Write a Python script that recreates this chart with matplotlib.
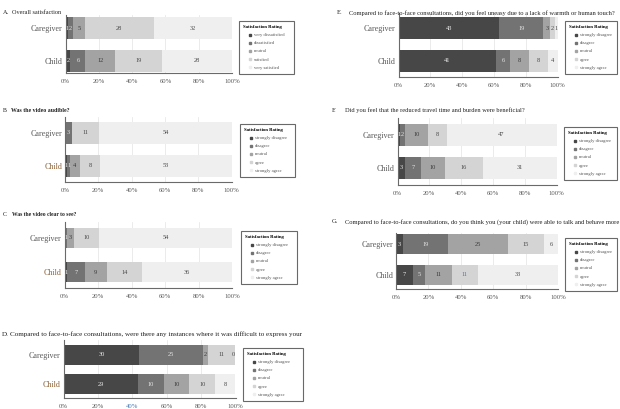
import matplotlib
matplotlib.use('Agg')
import matplotlib.pyplot as plt
from matplotlib.lines import Line2D
import numpy as np

plt.rcParams['font.family'] = ['Liberation Serif', 'DejaVu Serif']

W, H = 620, 409

groups = ['Caregiver', 'Child']
satisfaction_levels = ['very dissatisfied', 'dissatisfied', 'neutral', 'satisfied', 'very satisfied']
agreement_levels = ['strongly disagree', 'disagree', 'neutral', 'agree', 'strongly agree']

a_caregiver = [1, 2, 5, 28, 32]
a_child = [2, 6, 12, 19, 28]
b_caregiver = [0, 3, 0, 11, 54]
b_child = [1, 1, 4, 8, 53]
c_caregiver = [0, 1, 3, 10, 54]
c_child = [1, 7, 9, 14, 36]
d_caregiver = [30, 25, 2, 11, 0]
d_child = [29, 10, 10, 10, 8]
e_caregiver = [43, 19, 3, 2, 1]
e_child = [41, 6, 8, 8, 4]
f_caregiver = [1, 2, 10, 8, 47]
f_child = [3, 7, 10, 16, 31]
g_caregiver = [3, 19, 25, 15, 6]
g_child = [7, 5, 11, 11, 33]

title_a = 'Overall satisfaction'
title_b = 'Was the video audible?'
title_c = 'Was the video clear to see?'
title_d = 'Compared to face-to-face consultations, were there any instances where it was difficult to express your'
title_e = 'Compared to face-to-face consultations, did you feel uneasy due to a lack of warmth or human touch?'
title_f = 'Did you feel that the reduced travel time and burden were beneficial?'
title_g = 'Compared to face-to-face consultations, do you think you (your child) were able to talk and behave more'

x_ticks = [0, 20, 40, 60, 80, 100]
x_tick_labels = ['0%', '20%', '40%', '60%', '80%', '100%']
legend_title = 'Satisfaction Rating'

colors = ['#474747', '#737373', '#a3a3a3', '#d4d4d4', '#efefef']
text_colors = ['#eeeeee', '#e6e6e6', '#3a3a3a', '#4a4a4a', '#4a4a4a']

fig = plt.figure(figsize=(W / 100, H / 100), dpi=100)


def panel(letter, title, bold, tfs, lx, tx, ty, xr, yr, centers, barpx,
          cg_vals, ch_vals, levels, lbox, show_zero=False,
          child_color='#595959', blue_tick=None, blue_val=None):
    x0, x1 = xr
    yt, yb = yr
    cgc, chc = centers
    ax = fig.add_axes([x0 / W, 1 - yb / H, (x1 - x0) / W, (yb - yt) / H])
    u = chc - cgc
    ylo = -(yb - chc) / u
    yhi = 1 + (cgc - yt) / u
    bh = barpx / u
    ax.set_xlim(0, 100)
    ax.set_ylim(ylo, yhi)
    rows = [(1, cg_vals, 'cg'), (0, ch_vals, 'ch')]
    for y, vals, key in rows:
        vals = np.array(vals, dtype=float)
        pct = vals / vals.sum() * 100
        left = 0.0
        for i, (v, p) in enumerate(zip(vals, pct)):
            ax.barh(y, p, left=left, height=bh, color=colors[i], edgecolor='none', zorder=2)
            if v > 0 or show_zero:
                xc = left + p / 2 if p > 0 else min(left + 1.2, 98.8)
                col = text_colors[i]
                if blue_val is not None and blue_val == (key, i):
                    col = '#4a78b0'
                ax.text(xc, y, '%d' % v, ha='center', va='center', fontsize=4.6,
                        color=col, zorder=3)
            left += p
    ax.set_yticks([1, 0])
    ax.set_yticklabels(groups, fontsize=5.8, color='#595959')
    ax.get_yticklabels()[1].set_color(child_color)
    ax.set_xticks(x_ticks)
    ax.set_xticklabels(x_tick_labels, fontsize=4.8, color='#595959')
    if blue_tick is not None:
        ax.get_xticklabels()[blue_tick].set_color('#4a78b0')
    ax.tick_params(length=0, pad=4)
    ax.tick_params(axis='y', pad=2)
    ax.grid(axis='x', color='#e3e3e3', linewidth=0.5, zorder=0)
    ax.set_axisbelow(True)
    for s in ['top', 'right']:
        ax.spines[s].set_visible(False)
    for s in ['left', 'bottom']:
        ax.spines[s].set_color('#6a6a6a')
        ax.spines[s].set_linewidth(0.8)
    fig.text(lx / W, 1 - ty / H, letter, fontsize=tfs, va='center', ha='left', color='#222222')
    fig.text(tx / W, 1 - ty / H, title, fontsize=tfs, va='center', ha='left',
             color='#222222', fontweight='bold' if bold else 'normal')
    handles = [Line2D([], [], marker='s', ls='none', color=c, markersize=1.8) for c in colors]
    bx0, by0, bx1, by1 = lbox
    leg = fig.legend(handles, levels, title=legend_title, loc='upper left',
                     bbox_to_anchor=(bx0 / W, 1 - by1 / H, (bx1 - bx0) / W, (by1 - by0) / H),
                     mode='expand', fontsize=3.3,
                     title_fontproperties={'size': 3.4, 'weight': 'bold'},
                     frameon=True, fancybox=False, edgecolor='#444444',
                     borderpad=0.9, labelspacing=0.85, handlelength=3.2,
                     handletextpad=-0.9, borderaxespad=0, alignment='left')
    leg.get_frame().set_linewidth(0.8)
    for t in leg.get_texts():
        t.set_color('#555555')
    return ax


panel('A.', title_a, False, 4.5, 3, 12, 12, (65.5, 232), (15, 73), (28, 61), 22,
      a_caregiver, a_child, satisfaction_levels, (239, 21, 294, 73))
panel('B.', title_b, True, 4.2, 3, 11, 110, (65, 231.5), (117, 182), (133, 166), 22,
      b_caregiver, b_child, agreement_levels, (240, 124, 295, 182), child_color='#8c6239')
panel('C.', title_c, True, 4.1, 3, 12, 214, (64.5, 232), (222, 288), (237.5, 272), 20,
      c_caregiver, c_child, agreement_levels, (241, 231, 297, 284), child_color='#8c6239')
panel('D.', title_d, False, 5.1, 2, 10, 334, (63.5, 235.5), (340, 398), (354.5, 384), 20,
      d_caregiver, d_child, agreement_levels, (243, 348, 303, 397), show_zero=True,
      child_color='#8c6239', blue_tick=2)
panel('E.', title_e, False, 4.7, 337, 349, 13, (398.5, 557.5), (13, 77), (28, 61), 22,
      e_caregiver, e_child, agreement_levels, (565, 21, 617, 72))
panel('F.', title_f, False, 4.6, 332, 345, 110, (397.5, 556.5), (118, 185), (135, 168), 22,
      f_caregiver, f_child, agreement_levels, (564, 127, 617, 181))
panel('G.', title_g, False, 4.65, 332, 345, 222, (396, 558), (233, 289), (244, 274.5), 20,
      g_caregiver, g_child, agreement_levels, (565, 238, 617, 284), blue_val=('ch', 3))

fig.savefig('out.png', dpi=100)
